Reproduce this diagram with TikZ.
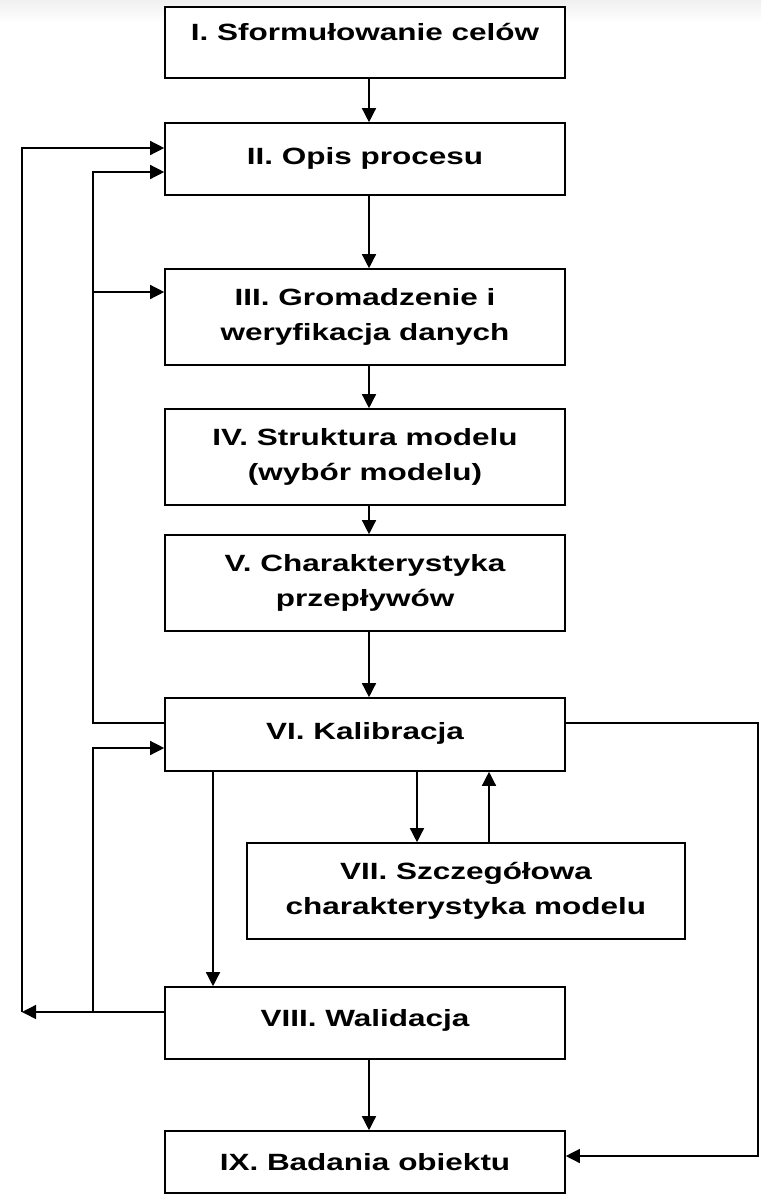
\documentclass[tikz,border=0pt]{standalone}
\usepackage{fontspec}
\setmainfont{Liberation Sans}[FakeStretch=1.34]
\usetikzlibrary{arrows.meta,positioning}
\tikzset{
  stage/.style={draw,line width=0.8pt,fill=white,minimum width=200pt,inner sep=0pt,
    align=center,font=\bfseries\fontsize{11.75}{17.5}\selectfont},
  oneline/.style={stage,minimum height=36pt,text height=8.4pt,text depth=#1},
  twoline/.style={stage,minimum height=48pt},
  flow/.style={line width=0.7pt,-{Triangle[length=7pt,width=7pt]}},
  link/.style={line width=0.7pt}
}

\begin{document}
\begin{tikzpicture}[x=0.5pt,y=-0.5pt]
  \useasboundingbox (0,0) rectangle (761,1199);
  \fill[white] (0,0) rectangle (761,1199);
  \shade[top color=blue!5!black!6,bottom color=white] (0,0) rectangle (761,22);

  % stages
  \node[oneline=10pt,minimum height=35.5pt] (I) at (365,42.5) {I. Sformułowanie celów};
  \node[oneline=2.5pt] (II) at (365,159) {II. Opis procesu};
  \node[twoline] (III) at (365,317) {III. Gromadzenie i\\weryfikacja danych};
  \node[twoline] (IV) at (365,457) {IV. Struktura modelu\\(wybór modelu)};
  \node[twoline] (V) at (365,583) {V. Charakterystyka\\przepływów};
  \node[oneline=3pt,minimum height=36.5pt] (VI) at (365,734.5) {VI. Kalibracja};
  \node[twoline,minimum width=219pt] (VII) at (466,891) {VII. Szczegółowa\\charakterystyka modelu};
  \node[oneline=5pt] (VIII) at (365,1023) {VIII. Walidacja};
  \node[oneline=0pt,minimum height=31pt] (IX) at (365,1162) {IX. Badania obiektu};

  % helper points
  \coordinate (cx) at (369,0);
  \coordinate (down) at (417,0);
  \coordinate (up) at (489,0);
  \coordinate (val) at (213,0);
  \coordinate (backL) at (22,1012);
  \coordinate (backM) at (93,1012);
  \coordinate (topL) at (22,148);
  \coordinate (topM) at (93,172);
  \coordinate (dataIn) at (93,292);
  \coordinate (calOut) at (93,723);
  \coordinate (calIn) at (93,748);
  \coordinate (sideR) at (758,723);
  \coordinate (sideB) at (758,1156);

  % main chain
  \foreach \a/\b in {I/II,II/III,III/IV,IV/V,V/VI,VIII/IX}
    \draw[flow] (\a.south -| cx) -- (\b.north -| cx);
  \draw[flow] (VI.south -| down) -- (VII.north -| down);
  \draw[flow] (VII.north -| up) -- (VI.south -| up);
  \draw[flow] (VI.south -| val) -- (VIII.north -| val);

  % feedback loops
  \draw[flow] (backL -| VIII.west) -- (backL);
  \draw[flow] (backL) -- (topL) -- (topL -| II.west);
  \draw[flow] (backM) -- (calIn) -- (calIn -| VI.west);
  \draw[flow] (calOut -| VI.west) -- (calOut) -- (topM) -- (topM -| II.west);
  \draw[flow] (dataIn) -- (dataIn -| III.west);
  \draw[flow] (sideR -| VI.east) -- (sideR) -- (sideB) -- (sideB -| IX.east);
\end{tikzpicture}
\end{document}
